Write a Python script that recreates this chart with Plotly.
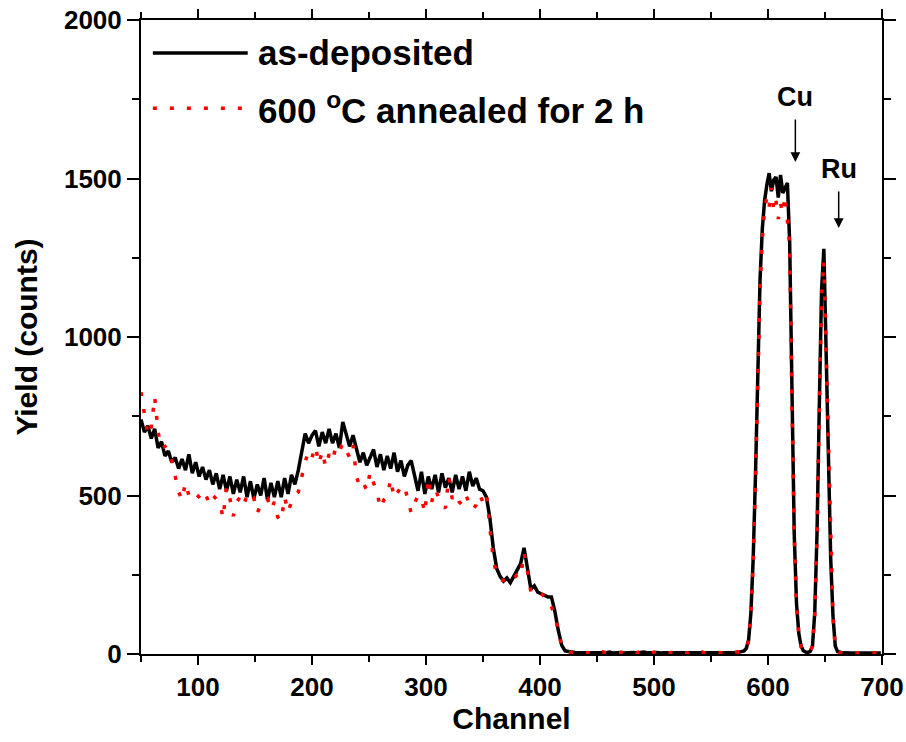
import plotly.graph_objects as go

# channel axis: coarse steps for the broad part, finer steps across the Cu / Ru peaks
channel = list(range(50, 576, 3)) + list(range(579, 700, 2))

as_deposited = [
    740, 700, 720, 680, 710, 650, 670, 625, 640, 605,
    620, 585, 615, 580, 630, 570, 605, 560, 590, 550,
    580, 535, 570, 520, 565, 515, 560, 505, 550, 510,
    560, 495, 545, 490, 535, 500, 555, 485, 540, 495,
    545, 495, 555, 505, 565, 535, 580, 640, 695, 665,
    690, 705, 655, 700, 665, 710, 665, 695, 650, 732,
    695, 655, 690, 645, 605, 635, 595, 620, 645, 590,
    630, 580, 625, 585, 635, 575, 610, 560, 595, 610,
    565, 515, 575, 505, 560, 520, 565, 510, 570, 525,
    555, 510, 565, 520, 560, 515, 575, 530, 555, 520,
    515, 495, 430, 335, 270, 245, 230, 240, 225, 245,
    265, 285, 335, 270, 205, 215, 195, 190, 185, 180,
    180, 135, 75, 28, 10, 7, 6, 5, 5, 4,
    4, 5, 4, 3, 5, 4, 4, 6, 3, 4,
    5, 3, 4, 4, 5, 3, 4, 6, 4, 3,
    4, 5, 3, 4, 4, 3, 5, 4, 3, 4,
    4, 5, 3, 4, 3, 4, 5, 4, 3, 4,
    5, 4, 3, 4, 5, 6,
    # 579 .. 699 step 2
    10, 18, 45, 130, 300, 560, 900, 1180, 1340, 1430,
    1480, 1517, 1460, 1495, 1505, 1440, 1511, 1454, 1470, 1486,
    1300, 800, 380, 160, 65, 25, 10, 6, 5, 8,
    25, 130, 380, 780, 1150, 1278, 960, 620, 300, 120,
    25, 8, 5, 4, 4, 3, 4, 3, 3, 4,
    3, 3, 4, 3, 3, 3, 4, 3, 3, 3, 3,
]

annealed = [
    826, 760, 690, 716, 811, 700, 650, 655, 643, 612,
    555, 511, 486, 540, 500, 490, 505, 495, 480, 500,
    475, 500, 490, 480, 429, 527, 490, 435, 480, 495,
    470, 500, 480, 490, 445, 470, 485, 490, 455, 480,
    432, 420, 495, 448, 480, 500, 511, 560, 606, 640,
    620, 655, 600, 640, 590, 630, 610, 655, 640, 665,
    640, 620, 659, 560, 527, 540, 517, 574, 540, 511,
    460, 486, 495, 552, 492, 511, 527, 532, 486, 445,
    476, 500, 492, 445, 555, 480, 520, 492, 470, 460,
    558, 490, 505, 480, 470, 500, 480, 455, 470, 502,
    480, 505, 400, 300, 250, 235, 232, 238, 228, 240,
    250, 243, 320, 260, 196, 205, 195, 190, 180, 172,
    150, 120, 76, 22, 10, 6, 5, 5, 4, 4,
    6, 4, 8, 5, 3, 7, 4, 6, 5, 3,
    4, 7, 5, 3, 6, 4, 8, 4, 5, 3,
    6, 4, 5, 7, 3, 5, 4, 6, 8, 4,
    3, 5, 6, 4, 7, 3, 5, 4, 6, 5,
    4, 7, 5, 3, 6, 8,
    # 579 .. 699 step 2
    8, 16, 42, 125, 290, 550, 880, 1150, 1310, 1400,
    1442, 1410, 1470, 1400, 1430, 1372, 1420, 1390, 1445, 1370,
    1290, 790, 375, 155, 62, 22, 8, 5, 5, 8,
    24, 125, 370, 770, 1130, 1240, 950, 610, 295, 115,
    22, 7, 4, 3, 4, 3, 3, 3, 4, 3,
    3, 4, 3, 3, 3, 4, 3, 3, 3, 3, 3,
]

series_names = ["as-deposited", "600 <sup>o</sup>C annealed for 2 h"]
x_ticks = [100, 200, 300, 400, 500, 600, 700]
y_ticks = [0, 500, 1000, 1500, 2000]

FONT = "Liberation Sans, Arial, sans-serif"
RED_DASH = "4px,13px"

fig = go.Figure()
fig.add_trace(go.Scatter(x=channel, y=as_deposited, mode="lines",
                         line=dict(color="black", width=3.5), showlegend=False))
fig.add_trace(go.Scatter(x=channel, y=annealed, mode="lines",
                         line=dict(color="#ff0000", width=3.5, dash=RED_DASH), showlegend=False))

axis_common = dict(showline=True, linecolor="black", linewidth=2, mirror="ticks",
                   ticks="outside", tickcolor="black", tickwidth=2,
                   showgrid=False, zeroline=False, automargin=False,
                   ticklabeloverflow="allow",
                   tickfont=dict(family=FONT, size=26, color="black", weight="bold"))

fig.update_xaxes(range=[50, 700], tickvals=x_ticks, ticklen=9,
                 minor=dict(dtick=50, tick0=50, ticks="outside", ticklen=6, tickwidth=2, tickcolor="black"),
                 title=dict(text="Channel", standoff=6,
                            font=dict(family=FONT, size=30, color="black", weight="bold")),
                 **axis_common)
fig.update_yaxes(range=[0, 2000], tickvals=y_ticks, ticklen=12,
                 minor=dict(dtick=250, tick0=0, ticks="outside", ticklen=7, tickwidth=2, tickcolor="black"),
                 title=dict(text="Yield (counts)", standoff=17,
                            font=dict(family=FONT, size=30, color="black", weight="bold")),
                 **axis_common)

# hand-drawn legend (long line samples as in the original)
legend_rows = [(0.948, dict(color="black", width=3.5)),
               (0.861, dict(color="#ff0000", width=3.5, dash=RED_DASH))]
for (ypos, line_style), name in zip(legend_rows, series_names):
    fig.add_shape(type="line", xref="paper", yref="paper",
                  x0=0.016, x1=0.144, y0=ypos, y1=ypos, line=line_style)
    fig.add_annotation(xref="paper", yref="paper", x=0.155, y=ypos,
                       xanchor="left", yanchor="middle", showarrow=False, text=name,
                       font=dict(family=FONT, size=35, color="black", weight="bold"))

# peak labels: text sits at the arrow tail, arrow points down to the peak
peak_labels = [("Cu", 624, 1757, 1552), ("Ru", 662, 1530, 1344)]
for label, xc, ytext, ytip in peak_labels:
    fig.add_annotation(x=xc, y=ytip, text=label, showarrow=True,
                       axref="x", ayref="y", ax=xc, ay=ytext,
                       arrowhead=2, arrowsize=1.3, arrowwidth=1.5, arrowcolor="black",
                       startstandoff=6,
                       font=dict(family=FONT, size=27, color="black", weight="bold"))

fig.update_layout(width=906, height=742, plot_bgcolor="white", paper_bgcolor="white",
                  margin=dict(l=141, r=24, t=20, b=88),
                  font=dict(family=FONT, color="black", weight="bold"))

# drop the default page margin so the figure fills the window exactly; no modebar
fig.write_html("out.html", config={"displayModeBar": False},
               post_script="document.body.style.margin='0';document.body.style.overflow='hidden';")
